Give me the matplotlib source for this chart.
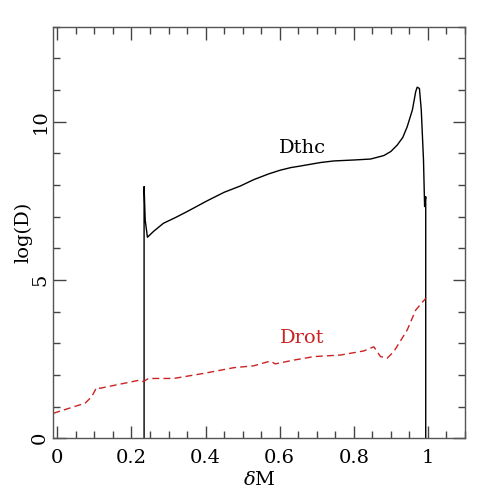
import matplotlib
matplotlib.use("Agg")
import matplotlib.pyplot as plt
from matplotlib.ticker import MultipleLocator

# Data
dthc_x = [0.234, 0.234, 0.237, 0.243, 0.259, 0.286, 0.320, 0.350, 0.404, 0.450,
          0.494, 0.530, 0.570, 0.602, 0.630, 0.656, 0.710, 0.746, 0.800, 0.845,
          0.881, 0.900, 0.917, 0.932, 0.944, 0.958, 0.967, 0.971, 0.977, 0.982,
          0.988, 0.991, 0.994, 0.994]
dthc_y = [0.0, 7.95, 6.89, 6.35, 6.53, 6.79, 6.98, 7.16, 7.50, 7.77,
          7.97, 8.17, 8.35, 8.47, 8.55, 8.60, 8.71, 8.76, 8.79, 8.82,
          8.93, 9.06, 9.26, 9.50, 9.84, 10.37, 10.95, 11.09, 11.05, 10.37,
          8.79, 7.32, 7.63, 0.0]

drot_x = [-0.011, 0.075, 0.093, 0.106, 0.115, 0.223, 0.232, 0.246, 0.314, 0.395,
          0.476, 0.530, 0.575, 0.588, 0.638, 0.692, 0.764, 0.827, 0.854, 0.872,
          0.890, 0.908, 0.944, 0.967, 0.994]
drot_y = [0.79, 1.11, 1.32, 1.61, 1.58, 1.84, 1.79, 1.89, 1.89, 2.05,
          2.23, 2.29, 2.44, 2.35, 2.47, 2.58, 2.63, 2.76, 2.89, 2.58,
          2.53, 2.74, 3.42, 4.05, 4.42]

xticks = [0, 0.2, 0.4, 0.6, 0.8, 1]
xticklabels = ["0", "0.2", "0.4", "0.6", "0.8", "1"]
yticks = [0, 5, 10]
yticklabels = ["0", "5", "10"]

plt.rcParams['font.family'] = ['DejaVu Serif']
plt.rcParams['mathtext.fontset'] = 'dejavuserif'

fig = plt.figure(figsize=(4.91, 4.91), dpi=100)
ax = fig.add_axes([53.3/491, 1 - 438.3/491, (465 - 53.3)/491, (438.3 - 26.7)/491])

ax.plot(dthc_x, dthc_y, color='black', lw=1.0)
ax.plot(drot_x, drot_y, color='#cc2222', lw=1.0, dashes=(5, 3))

ax.text(0.662, 9.16, "Dthc", color='black', fontsize=14, ha='center', va='center')
ax.text(0.660, 3.16, "Drot", color='#cc2222', fontsize=14, ha='center', va='center')

ax.set_xlim(-0.011, 1.1)
ax.set_ylim(0, 13)

ax.set_xticks(xticks)
ax.set_xticklabels(xticklabels)
ax.set_yticks(yticks)
ax.set_yticklabels(yticklabels, rotation=90, va='center')
ax.xaxis.set_minor_locator(MultipleLocator(0.05))
ax.yaxis.set_minor_locator(MultipleLocator(1))

ax.tick_params(which='both', direction='in', top=True, right=True, colors='#444444',
               labelcolor='black', labelsize=14)
ax.tick_params(which='major', length=9, width=1)
ax.tick_params(which='minor', length=5, width=1)
ax.tick_params(axis='x', which='major', pad=8)
ax.tick_params(axis='y', which='major', pad=3)

for s in ax.spines.values():
    s.set_color('#555555')
    s.set_linewidth(1.0)

ax.set_xlabel(r"$\delta$M", fontsize=14)
ax.set_ylabel("log(D)", fontsize=14)
ax.xaxis.set_label_coords(0.5, -0.101)
ax.yaxis.set_label_coords(-0.074, 0.5)
ax.xaxis.label.set_va('center')
ax.yaxis.label.set_va('center')

fig.savefig("out.png", dpi=100)
